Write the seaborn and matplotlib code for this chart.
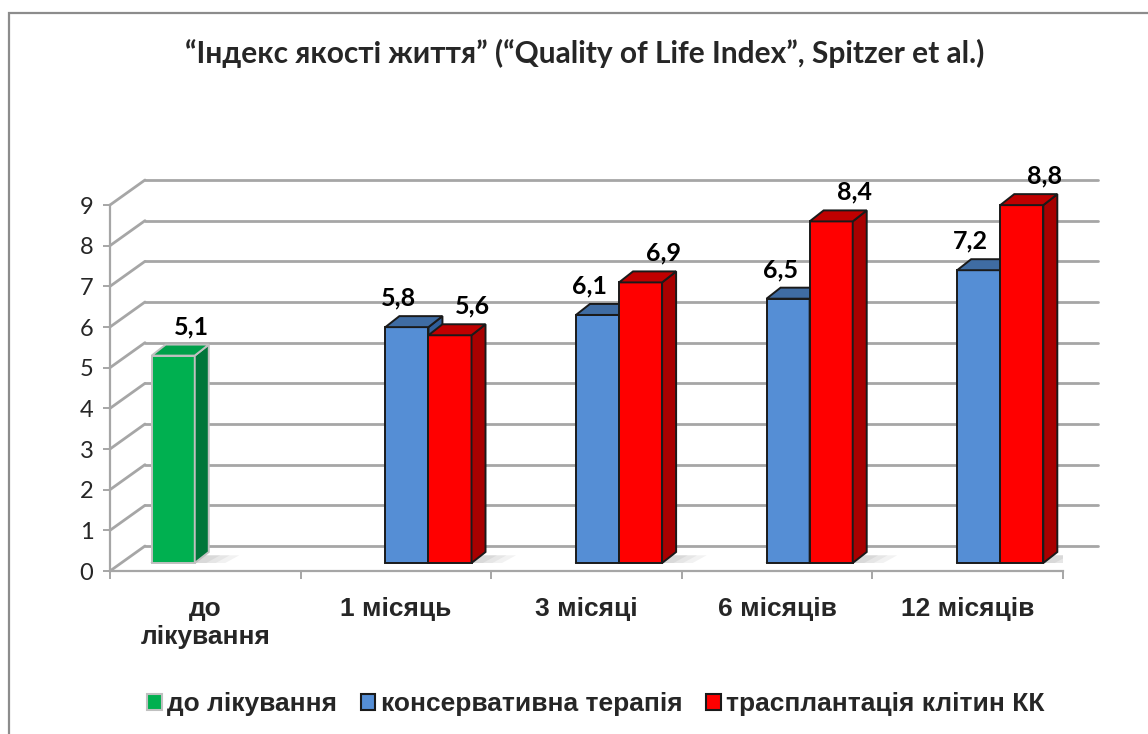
import matplotlib
matplotlib.use("Agg")
import matplotlib.pyplot as plt
import numpy as np
import pandas as pd
import seaborn as sns
from matplotlib.patches import Polygon, Patch, Rectangle

# ─── Data ────────────────────────────────────────────────────────────────────
periods = ["до\nлікування", "1 місяць", "3 місяці", "6 місяців", "12 місяців"]
series = ["до лікування", "консервативна терапія", "трасплантація клітин КК"]
baseline_vals = [5.1, np.nan, np.nan, np.nan, np.nan]
conservative_vals = [np.nan, 5.8, 6.1, 6.5, 7.2]
transplant_vals = [np.nan, 5.6, 6.9, 8.4, 8.8]
y_ticks = list(range(0, 10))

title = "“Індекс якості життя” (“Quality of Life Index”, Spitzer et al.)"

# colours: (front, side, top, edge)
COLORS = {
    series[0]: ("#00b050", "#00763a", "#00a04a", "#c0c0c0"),
    series[1]: ("#558ed5", "#2f5f9a", "#3f6ca3", "#1a1a1a"),
    series[2]: ("#ff0000", "#a80000", "#c00000", "#1a1a1a"),
}
LABEL_DX = {series[0]: 18, series[1]: -8, series[2]: 23}  # px, label shift

df = pd.DataFrame({
    "period": periods * 3,
    "group": [series[0]] * 5 + [series[1]] * 5 + [series[2]] * 5,
    "value": baseline_vals + conservative_vals + transplant_vals,
})

# ─── Figure ──────────────────────────────────────────────────────────────────
W, H, DPI = 1148, 734, 100
sns.set_theme(style="white")
plt.rcParams["font.family"] = ["Lato", "DejaVu Sans"]
ARIAL = ["Liberation Sans", "DejaVu Sans"]

fig = plt.figure(figsize=(W / DPI, H / DPI), dpi=DPI)
fig.patch.set_facecolor("white")

x0_px, x1_px, y0_px, y9_px = 110, 1063, 571, 205
ax = fig.add_axes([x0_px / W, (H - y0_px) / H, (x1_px - x0_px) / W, (y0_px - y9_px) / H])
ax.set_xlim(-0.5, 4.5)
ax.set_ylim(0, 9)
ax.set_facecolor("none")

ppx = (x1_px - x0_px) / 5.0      # px per category
ppy = (y0_px - y9_px) / 9.0      # px per unit

# back wall offset, bar front offset, bar depth (px -> data)
wall_dx, wall_dy = 35 / ppx, 25 / ppy
bar_dx, bar_dy = 11 / ppx, 8 / ppy
dep_dx, dep_dy = 14 / ppx, 11 / ppy

grid_c = "#a6a6a6"
for v in y_ticks:
    ax.plot([-0.5, -0.5 + wall_dx], [v, v + wall_dy], color=grid_c, lw=2, clip_on=False, zorder=1)
    ax.plot([-0.5 + wall_dx, 4.5 + wall_dx], [v + wall_dy, v + wall_dy],
            color=grid_c, lw=2, clip_on=False, zorder=1)

# ─── Bars ────────────────────────────────────────────────────────────────────
sns.barplot(data=df, x="period", y="value", hue="group", order=periods, hue_order=series,
            width=0.678, dodge=True, saturation=1, legend=False, ax=ax,
            palette={k: c[0] for k, c in COLORS.items()})

bars = [p for p in ax.patches if np.isfinite(p.get_height()) and p.get_height() > 0]
bars.sort(key=lambda p: p.get_x())
for i, p in enumerate(bars):
    fc = matplotlib.colors.to_hex(p.get_facecolor())
    key = [k for k, c in COLORS.items() if c[0] == fc][0]
    front, side, top, edge = COLORS[key]
    h = p.get_height()
    bx0 = p.get_x() + bar_dx
    bx1 = bx0 + p.get_width()
    by0, by1 = bar_dy, bar_dy + h
    z = 3 + i * 0.01
    p.set_x(bx0)
    p.set_y(by0)
    p.set_edgecolor(edge)
    p.set_linewidth(1.4)
    p.set_zorder(z)
    p.set_clip_on(False)
    # soft floor shadow
    for k, a in enumerate([0.10, 0.10, 0.12]):
        ext = 0.16 - k * 0.05
        ax.add_patch(Polygon([(bx0 - 0.01, by0), (bx1 + ext, by0),
                              (bx1 + ext + dep_dx, by0 + dep_dy * 0.7),
                              (bx0 + dep_dx, by0 + dep_dy * 0.7)],
                             closed=True, facecolor="#808080", alpha=a, lw=0, zorder=2))
    ax.add_patch(Polygon([(bx1, by0), (bx1 + dep_dx, by0 + dep_dy), (bx1 + dep_dx, by1 + dep_dy), (bx1, by1)],
                         closed=True, facecolor=side, edgecolor=edge, lw=1.4, zorder=z + 0.001,
                         clip_on=False))
    ax.add_patch(Polygon([(bx0, by1), (bx1, by1), (bx1 + dep_dx, by1 + dep_dy), (bx0 + dep_dx, by1 + dep_dy)],
                         closed=True, facecolor=top, edgecolor=edge, lw=1.4, zorder=z + 0.002,
                         clip_on=False))
    ax.annotate(f"{h:.1f}".replace(".", ","), xy=((bx0 + bx1) / 2, by1),
                xytext=(LABEL_DX[key], 29), textcoords="offset pixels",
                ha="center", va="center", fontsize=18, fontweight="bold",
                color="black", zorder=10, annotation_clip=False)

# ─── Axes styling ────────────────────────────────────────────────────────────
for s in ["top", "right"]:
    ax.spines[s].set_visible(False)
for s in ["left", "bottom"]:
    ax.spines[s].set_color(grid_c)
    ax.spines[s].set_linewidth(1.6)

ax.set_yticks(y_ticks)
ax.set_yticklabels([str(v) for v in y_ticks], fontsize=17)
ax.tick_params(axis="y", length=5, width=1.4, color=grid_c, pad=7, left=True)
ax.set_xticks(range(len(periods)))
ax.set_xticklabels(periods, fontsize=19, fontweight="bold", fontfamily=ARIAL, linespacing=1.2)
ax.tick_params(axis="x", length=0, pad=19)
ax.set_xticks(np.arange(-0.5, 4.6, 1.0), minor=True)
ax.tick_params(axis="x", which="minor", length=6, width=1.4, color=grid_c, bottom=True)
ax.set_xlabel("")
ax.set_ylabel("")
ax.grid(False)

fig.text(0.509, (H - 53) / H, title, ha="center", va="center", fontsize=21.5, fontweight="bold")

handles = [Patch(facecolor=COLORS[s][0], edgecolor=COLORS[s][3], linewidth=1.5) for s in series]
leg = fig.legend(handles, series, loc="center", bbox_to_anchor=(0.519, (H - 704) / H), ncol=3,
                 frameon=False, handlelength=0.55, handleheight=0.55, handletextpad=0.2,
                 columnspacing=0.9, prop={"family": ARIAL, "weight": "bold", "size": 19})

fig.patches.append(Rectangle((9 / W, -0.05), 1.2, (H - 13) / H + 0.05, transform=fig.transFigure,
                             fill=False, edgecolor="#8c8c8c", lw=1.6, zorder=0))

fig.savefig("out.png", dpi=DPI)
